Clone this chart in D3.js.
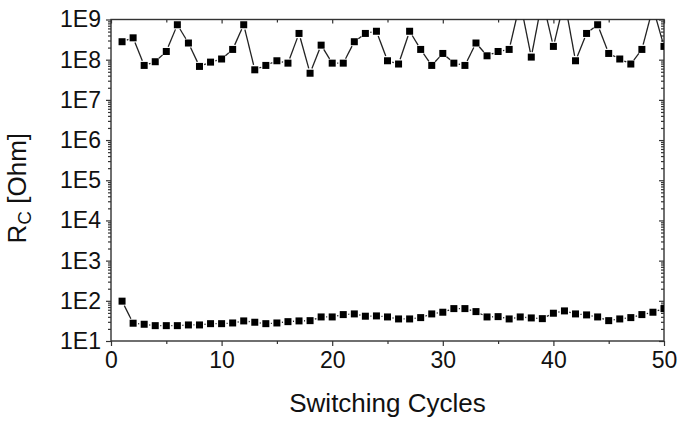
<!DOCTYPE html>
<html lang="en">
<head>
  <meta charset="UTF-8">
  <title>Switching Cycles</title>
  <script src="https://d3js.org/d3.v7.min.js"></script>
  <style>
    body { margin: 0; background: #fff; font-family: Arial, "Liberation Sans", sans-serif; }
  </style>
</head>
<body>
  <div id="chart"></div>
  <script>
    // switching cycle number
    const cycles = d3.range(1, 51);

    // high-resistance state (Ohm); values above 1E9 run off the top of the frame
    const rHigh = [
      2.8e8, 3.5e8, 7.2e7, 8.9e7, 1.6e8, 7.4e8, 2.6e8, 6.8e7, 8.7e7, 1.04e8,
      1.8e8, 7.4e8, 5.6e7, 7.2e7, 9.4e7, 8.2e7, 4.5e8, 4.6e7, 2.3e8, 8.2e7,
      8.2e7, 2.8e8, 4.5e8, 5.1e8, 9.4e7, 7.8e7, 5.1e8, 1.8e8, 7.2e7, 1.43e8,
      8.2e7, 7.2e7, 2.6e8, 1.25e8, 1.6e8, 1.8e8, 2.7e9, 1.16e8, 3.2e9, 2.14e8,
      3.0e9, 9.4e7, 4.5e8, 7.4e8, 1.43e8, 1.04e8, 7.8e7, 1.8e8, 2.0e9, 2.14e8
    ];

    // low-resistance state (Ohm)
    const rLow = [
      98, 27.7, 26.1, 24.1, 24.1, 24.1, 25.1, 25.1, 27, 27,
      28.1, 31.6, 29.3, 27, 28.1, 30.3, 31.6, 32.1, 39.7, 39.7,
      45.4, 47.2, 41.4, 42.1, 39.7, 35.4, 35.4, 38.2, 47.2, 52,
      64, 64, 53.9, 39.7, 40.4, 35.4, 39.7, 37.5, 36, 49.1,
      56.1, 47.2, 44.6, 39.7, 32.1, 35.4, 38.2, 45.4, 52, 64
    ];

    const xTicks = [0, 10, 20, 30, 40, 50];
    const yTicks = [1e1, 1e2, 1e3, 1e4, 1e5, 1e6, 1e7, 1e8, 1e9];

    const W = 680, H = 422;
    const margin = {top: 19.5, right: 16, bottom: 81, left: 111};
    const width = W - margin.left - margin.right,
          height = H - margin.top - margin.bottom;

    const svg = d3.select("#chart").append("svg")
      .attr("width", W).attr("height", H);

    const g = svg.append("g")
      .attr("transform", `translate(${margin.left},${margin.top})`);

    const x = d3.scaleLinear().domain([0, 50]).range([0, width]);
    const y = d3.scaleLog().domain([1e1, 1e9]).range([height, 0]);

    svg.append("defs").append("clipPath").attr("id", "plot")
      .append("rect").attr("width", width).attr("height", height);

    const axisColor = "#333";
    const fontSize = 23;

    // minor ticks
    const xMinor = d3.range(5, 50, 10);
    const yMinor = [];
    yTicks.slice(0, -1).forEach(d => { for (let k = 2; k < 10; k++) yMinor.push(d * k); });

    function styleAxis(sel) {
      sel.select(".domain").remove();
      sel.selectAll("line").attr("stroke", axisColor).attr("stroke-width", 1.2);
      sel.selectAll("text").attr("fill", "#111")
        .style("font-family", "Arial, 'Liberation Sans', sans-serif")
        .style("font-size", fontSize + "px");
    }

    // bottom axis
    g.append("g").attr("transform", `translate(0,${height})`)
      .call(d3.axisBottom(x).tickValues(xTicks).tickSize(5).tickPadding(6).tickFormat(d3.format("d")))
      .call(styleAxis);
    g.append("g").attr("transform", `translate(0,${height})`)
      .call(d3.axisBottom(x).tickValues(xMinor).tickSize(3).tickFormat(""))
      .call(styleAxis);

    // top axis (inward ticks)
    g.append("g")
      .call(d3.axisTop(x).tickValues(xTicks).tickSize(-4).tickFormat(""))
      .call(styleAxis);
    g.append("g")
      .call(d3.axisTop(x).tickValues(xMinor).tickSize(-3).tickFormat(""))
      .call(styleAxis);

    // left axis
    g.append("g")
      .call(d3.axisLeft(y).tickValues(yTicks).tickSize(5).tickPadding(5)
        .tickFormat(d => "1E" + Math.round(Math.log10(d))))
      .call(styleAxis);
    g.append("g")
      .call(d3.axisLeft(y).tickValues(yMinor).tickSize(3).tickFormat(""))
      .call(styleAxis);

    // right axis (inward ticks)
    g.append("g").attr("transform", `translate(${width},0)`)
      .call(d3.axisRight(y).tickValues(yTicks).tickSize(-5).tickFormat(""))
      .call(styleAxis);
    g.append("g").attr("transform", `translate(${width},0)`)
      .call(d3.axisRight(y).tickValues(yMinor).tickSize(-3).tickFormat(""))
      .call(styleAxis);

    // frame
    g.append("rect")
      .attr("width", width).attr("height", height)
      .attr("fill", "none").attr("stroke", axisColor).attr("stroke-width", 1.4);

    const msize = 7;
    const gap = msize / 2 + 1.5;

    function drawSeries(values) {
      const pts = cycles.map((c, i) => [x(c), y(values[i])]);
      const layer = g.append("g").attr("clip-path", "url(#plot)");

      // line segments broken around the symbols
      const segs = [];
      for (let i = 0; i < pts.length - 1; i++) {
        const [x0, y0] = pts[i], [x1, y1] = pts[i + 1];
        const len = Math.hypot(x1 - x0, y1 - y0);
        if (len <= 2 * gap + 0.5) continue;
        const ux = (x1 - x0) / len, uy = (y1 - y0) / len;
        segs.push([x0 + ux * gap, y0 + uy * gap, x1 - ux * gap, y1 - uy * gap]);
      }
      layer.selectAll(".seg").data(segs).enter().append("line")
        .attr("x1", d => d[0]).attr("y1", d => d[1])
        .attr("x2", d => d[2]).attr("y2", d => d[3])
        .attr("stroke", "#222").attr("stroke-width", 1.3);

      layer.selectAll(".pt").data(pts).enter().append("rect")
        .attr("x", d => d[0] - msize / 2).attr("y", d => d[1] - msize / 2)
        .attr("width", msize).attr("height", msize)
        .attr("fill", "#000");
    }

    drawSeries(rHigh);
    drawSeries(rLow);

    // axis titles
    svg.append("text")
      .attr("x", margin.left + width / 2).attr("y", 412)
      .attr("text-anchor", "middle")
      .style("font-size", "26px").attr("fill", "#111")
      .text("Switching Cycles");

    const yt = svg.append("text")
      .attr("transform", `translate(26,${margin.top + height / 2 + 8}) rotate(-90)`)
      .attr("text-anchor", "middle")
      .style("font-size", "26px").attr("fill", "#111");
    yt.append("tspan").text("R");
    yt.append("tspan").attr("dy", 5).style("font-size", "19px").text("C");
    yt.append("tspan").attr("dy", -5).text(" [Ohm]");
  </script>
</body>
</html>
